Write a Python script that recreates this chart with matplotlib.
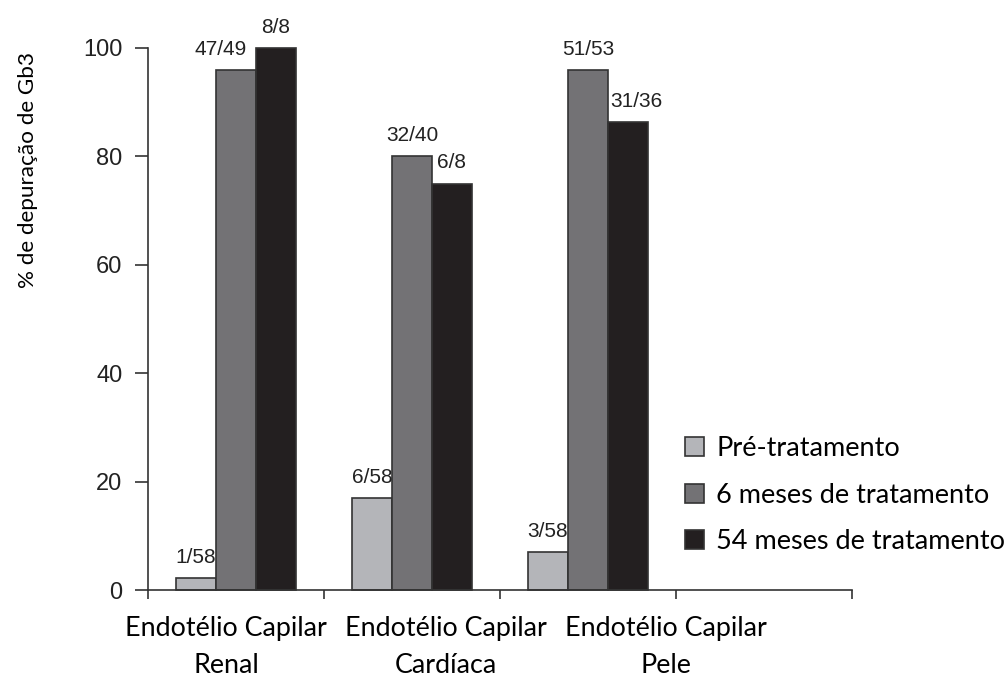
import matplotlib
matplotlib.use("Agg")
import matplotlib.pyplot as plt
import numpy as np

groups = ["Endotélio Capilar\nRenal", "Endotélio Capilar\nCardíaca", "Endotélio Capilar\nPele"]
series = ["Pré-tratamento", "6 meses de tratamento", "54 meses de tratamento"]
pre = [2.2, 17, 7]
six_months = [96, 80, 96]
fifty_four = [100, 75, 86.3]
pre_labels = ["1/58", "6/58", "3/58"]
six_labels = ["47/49", "32/40", "51/53"]
fifty_four_labels = ["8/8", "6/8", "31/36"]

colors = ["#b4b5b9", "#737275", "#231f20"]
label_font = "Lato"
num_font = "Liberation Sans"

# a couple of count labels are pushed sideways in the original
nudge = {"47/49": -11, "31/36": 6}

fig = plt.figure(figsize=(10.06, 6.77), dpi=100)
ax = fig.add_axes([0.1471, 0.1285, 0.6998, 0.8006])

centers = np.arange(len(groups)) + 0.5
width = 0.227
values = [pre, six_months, fifty_four]
texts = [pre_labels, six_labels, fifty_four_labels]

handles = []
for i, (vals, labs) in enumerate(zip(values, texts)):
    xs = centers + (i - 1) * width
    bars = ax.bar(xs, vals, width, color=colors[i], edgecolor="#333333",
                  linewidth=1.2, label=series[i], clip_on=False, zorder=2)
    handles.append(bars)
    for x, v, t in zip(xs, vals, labs):
        ax.annotate(t, (x, v), xytext=(nudge.get(t, 0), 8),
                    textcoords="offset points", ha="center", va="bottom",
                    fontsize=15, family=num_font, color="#222222")

ax.set_xlim(0, 4)
ax.set_ylim(0, 100)
ax.set_xticks([0, 1, 2, 3, 4])
ax.set_xticklabels([])
ax.set_yticks([0, 20, 40, 60, 80, 100])
ax.tick_params(axis="y", direction="out", length=9.5, width=1.2, pad=9,
               labelsize=17, color="#333333", labelcolor="#222222")
ax.tick_params(axis="x", direction="out", length=6.5, width=1.2, color="#333333")
for lab in ax.get_yticklabels():
    lab.set_family(num_font)

for side in ["top", "right"]:
    ax.spines[side].set_visible(False)
for side in ["left", "bottom"]:
    ax.spines[side].set_linewidth(1.2)
    ax.spines[side].set_color("#333333")

# category labels sit a bit off the group centres in the original
label_x = [0.443, 1.693, 2.943]
for x, g in zip(label_x, groups):
    ax.text(x, -0.048, g, transform=ax.get_xaxis_transform(), ha="center",
            va="top", fontsize=19.4, family=label_font, linespacing=1.6)

fig.text(0.028, 1 - 170 / 677, "% de depuração de Gb3", rotation=90,
         ha="center", va="center", fontsize=16.2, family=label_font)

fig.legend(handles=handles, labels=series, loc="upper left",
           bbox_to_anchor=(685 / 1006, 1 - 436 / 677), frameon=False,
           borderpad=0, borderaxespad=0,
           handlelength=0.7, handleheight=0.7, handletextpad=0.45,
           labelspacing=0.8, prop={"family": label_font, "size": 19.5})

fig.savefig("out.png", dpi=100)
